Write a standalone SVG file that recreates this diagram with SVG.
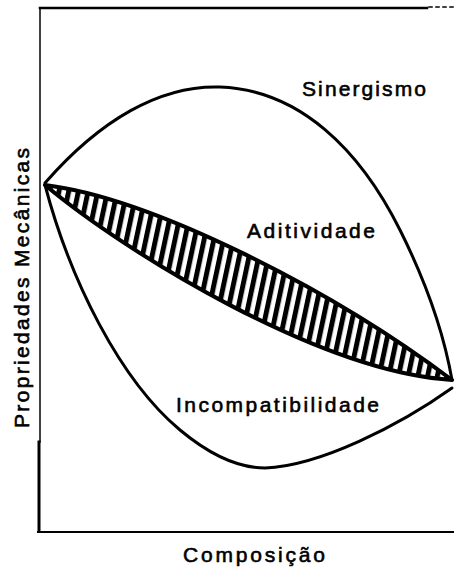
<svg xmlns="http://www.w3.org/2000/svg" width="454" height="569" viewBox="0 0 454 569">
<defs>
<pattern id="hatch" width="9.5" height="9.5" patternUnits="userSpaceOnUse" patternTransform="rotate(12)">
<rect width="9.5" height="9.5" fill="#fff"/>
<rect x="0" y="0" width="5" height="9.5" fill="#000"/>
</pattern>
<style>
.ax{stroke:#000;fill:none;stroke-linecap:square}
.crv{stroke:#000;fill:none;stroke-width:3;stroke-linejoin:round;stroke-linecap:round}
.lbl{font-family:"Liberation Sans",Arial,sans-serif;font-size:21px;fill:#000;stroke:#000;stroke-width:0.6}
</style>
</defs>
<rect width="454" height="569" fill="#fff"/>
<g id="axes">
<line class="ax" x1="40" y1="8" x2="427" y2="8" stroke-width="2.5"/>
<line class="ax" x1="429" y1="7" x2="454" y2="7" stroke-width="1.5" stroke-dasharray="3 4"/>
<line class="ax" x1="40" y1="8" x2="40" y2="442" stroke-width="1.5"/>
<line class="ax" x1="39" y1="442" x2="39" y2="531" stroke-width="3"/>
<line class="ax" x1="38" y1="532" x2="454" y2="532" stroke-width="2"/>
</g>
<g id="sinergismo">
<path class="crv" d="M45,183 C100,120 160,85 220,87 C300,90 360,150 400,230 C430,290 445,340 452,380"/>
</g>
<g id="aditividade">
<path d="M45,185 C150,198 330,288 452,380 C320,372 125,252 45,185 Z" fill="url(#hatch)" stroke="#000" stroke-width="4" stroke-linejoin="round"/>
</g>
<g id="incompatibilidade">
<path class="crv" d="M45,185 C70,280 120,380 180,430 C210,455 240,468 265,468 C320,466 400,425 452,388"/>
</g>
<g id="labels">
<text class="lbl" x="302" y="96" textLength="124" lengthAdjust="spacing">Sinergismo</text>
<text class="lbl" x="247" y="238" textLength="128" lengthAdjust="spacing">Aditividade</text>
<text class="lbl" x="176" y="412" textLength="203" lengthAdjust="spacing">Incompatibilidade</text>
<text class="lbl" x="183" y="562" textLength="142" lengthAdjust="spacing">Composição</text>
<text class="lbl" transform="translate(29,428) rotate(-90)" x="0" y="0" textLength="280" lengthAdjust="spacing">Propriedades Mecânicas</text>
</g>
</svg>
